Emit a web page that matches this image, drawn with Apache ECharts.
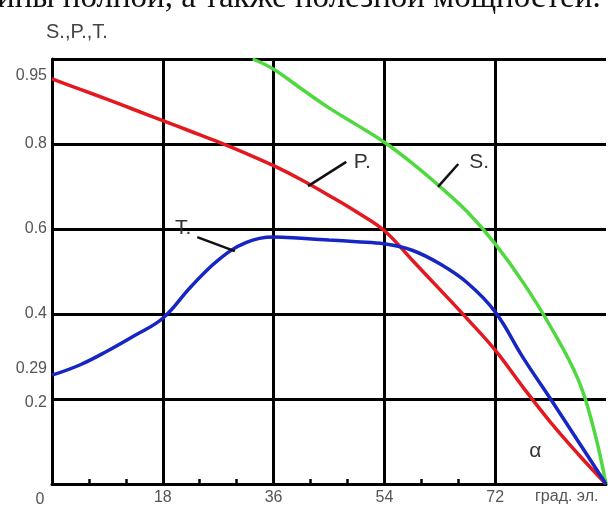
<!DOCTYPE html>
<html>
<head>
<meta charset="utf-8">
<script src="https://cdn.jsdelivr.net/npm/echarts@6/dist/echarts.min.js"></script>
<style>
html,body{margin:0;padding:0;background:#fff;}
#c{width:608px;height:508px;}
</style>
</head>
<body>
<div id="c"></div>
<script>
// ---- data ----
const pX = [0, 4.5, 9, 13.5, 18, 22.5, 27, 31.5, 36, 40.5, 45, 49.5, 54, 58.5, 63, 67.5, 72, 76.5, 81, 85.5, 90];
const pY = [0.953, 0.929, 0.905, 0.880, 0.855, 0.830, 0.805, 0.778, 0.749, 0.716, 0.679, 0.640, 0.596, 0.527, 0.458, 0.388, 0.315, 0.228, 0.145, 0.07, 0];

const sX = [32.6, 36, 40.5, 45, 49.5, 54, 58.5, 63, 67.5, 72, 76.5, 81, 85.5, 88, 90];
const sY = [1.0, 0.976, 0.93, 0.885, 0.845, 0.804, 0.755, 0.70, 0.64, 0.565, 0.475, 0.37, 0.245, 0.13, 0];

const tX = [0, 4.5, 9, 13.5, 18, 22.5, 27, 31.5, 36, 40.5, 45, 49.5, 54, 58.5, 63, 67.5, 72, 76.5, 81, 85.5, 90];
const tY = [0.256, 0.28, 0.313, 0.35, 0.39, 0.463, 0.527, 0.568, 0.581, 0.578, 0.574, 0.57, 0.565, 0.55, 0.518, 0.473, 0.405, 0.298, 0.2, 0.1, 0];

const xLabelValues = [0, 18, 36, 54, 72];
const xMinorTicks = [6, 12, 24, 30, 42, 48, 60, 66];
const yLabelValues = [0.2, 0.29, 0.4, 0.6, 0.8, 0.95];

const yAxisTitle = 'S.,P.,T.';
const xUnit = 'град. эл.';
const topText = 'ины полной, а также полезной мощностей.';

// curve annotations: [label, leaderFrom, leaderTo, labelAt]
const notes = [
  ['P.', [41.6, 0.701], [47.8, 0.758], [50.4, 0.757]],
  ['S.', [62.7, 0.699], [66.0, 0.753], [69.4, 0.757]],
  ['T.', [29.7, 0.548], [23.6, 0.581], [21.3, 0.603]]
];
const alphaAt = [78.5, 0.076];

const zip = (xs, ys) => xs.map((x, i) => [x, ys[i]]);

const labelFont = 'Liberation Sans';
const chart = echarts.init(document.getElementById('c'), null, {renderer: 'canvas'});

function leader(idx) {
  const n = notes[idx];
  return {
    silent: true, symbol: ['none', 'none'],
    lineStyle: {color: '#111', width: 2.5, type: 'solid'},
    label: {show: false},
    data: [[{coord: n[1]}, {coord: n[2]}]],
    animation: false
  };
}
function textMarks(items) {
  return {
    silent: true, symbol: 'circle', symbolSize: 0,
    label: {show: true, position: 'inside', formatter: p => p.name, color: '#333',
            fontFamily: labelFont, fontSize: 21},
    data: items.map(it => ({name: it[0], coord: it[1]})),
    animation: false
  };
}

const option = {
  animation: false,
  backgroundColor: '#fff',
  title: {
    text: yAxisTitle, left: 41, top: 17,
    textStyle: {color: '#444', fontSize: 20, fontWeight: 'normal', fontFamily: labelFont}
  },
  grid: {left: 52, right: 2, top: 59, bottom: 23},
  xAxis: [{
    type: 'value', min: 0, max: 90, interval: 18,
    axisLine: {show: true, onZero: false, lineStyle: {color: '#000', width: 3}},
    axisTick: {show: false},
    axisLabel: {
      customValues: xLabelValues, margin: 6, color: '#555', fontSize: 16, fontFamily: labelFont,
      formatter: v => v === 0 ? '{z|0}' : String(v),
      rich: {z: {padding: [2, 24, 0, 0], color: '#555', fontSize: 16, fontFamily: labelFont}}
    },
    splitLine: {show: true, showMinLine: false, showMaxLine: false,
                lineStyle: {color: '#000', width: 3}}
  }, {
    type: 'value', min: 0, max: 90, position: 'bottom', offset: 0,
    axisLine: {show: false},
    axisTick: {show: true, inside: true, length: 5, customValues: xMinorTicks,
               lineStyle: {color: '#000', width: 2.5}},
    axisLabel: {show: false},
    splitLine: {show: false}
  }],
  yAxis: {
    type: 'value', min: 0, max: 1, interval: 0.2,
    axisLine: {show: true, onZero: false, lineStyle: {color: '#000', width: 3}},
    axisTick: {show: false},
    axisLabel: {
      customValues: yLabelValues, margin: 5, color: '#555', fontSize: 16, fontFamily: labelFont,
      formatter: v => {
        const s = String(v);
        if (v === 0.95) return '{up|' + s + '}';
        if (v === 0.29) return '{dn|' + s + '}';
        if (v === 0.2) return '{dn2|' + s + '}';
        return s;
      },
      rich: {
        up: {padding: [0, 0, 10, 0], color: '#555', fontSize: 16, fontFamily: labelFont},
        dn: {padding: [16, 0, 0, 0], color: '#555', fontSize: 16, fontFamily: labelFont},
        dn2: {padding: [8, 0, 0, 0], color: '#555', fontSize: 16, fontFamily: labelFont}
      }
    },
    splitLine: {show: true, lineStyle: {color: '#000', width: 3}}
  },
  series: [
    {
      name: 'P', type: 'line', data: zip(pX, pY), smooth: 0.4, showSymbol: false,
      lineStyle: {color: '#e3191f', width: 3.5}, clip: true, z: 3,
      markLine: leader(0), markPoint: textMarks([[notes[0][0], notes[0][3]]])
    },
    {
      name: 'S', type: 'line', data: zip(sX, sY), smooth: 0.4, showSymbol: false,
      lineStyle: {color: '#4fd93f', width: 3.5}, clip: true, z: 3,
      markLine: leader(1), markPoint: textMarks([[notes[1][0], notes[1][3]]])
    },
    {
      name: 'T', type: 'line', data: zip(tX, tY), smooth: 0.4, showSymbol: false,
      lineStyle: {color: '#1526c4', width: 3.5}, clip: true, z: 3,
      markLine: leader(2), markPoint: textMarks([[notes[2][0], notes[2][3]], ['α', alphaAt]])
    }
  ],
  graphic: [
    {type: 'text', left: 535, top: 489, silent: true,
     style: {text: xUnit, fill: '#555', font: '16px "Liberation Sans"'}},
    {type: 'text', left: -3, top: -18, silent: true,
     style: {text: topText, fill: '#111', font: '33px "Liberation Serif"'}}
  ]
};
chart.setOption(option);
</script>
</body>
</html>
